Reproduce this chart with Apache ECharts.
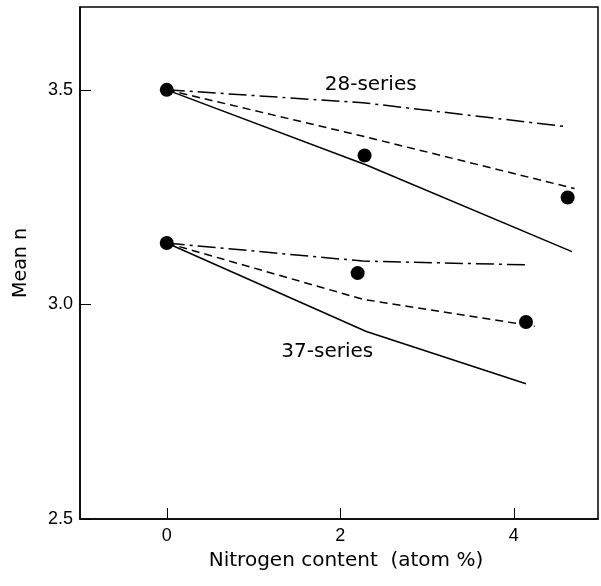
<!DOCTYPE html>
<html>
<head>
<meta charset="utf-8">
<script src="https://cdn.jsdelivr.net/npm/echarts@6/dist/echarts.min.js"></script>
<style>
  html, body { margin: 0; padding: 0; background: #fff; }
  #main { width: 601px; height: 586px; }
</style>
</head>
<body>
<div id="main"></div>
<script>
// measured points (mean n vs nitrogen content)
const dots28X = [0, 2.28, 4.62]
const dots28Y = [3.5, 3.347, 3.249]
const dots37X = [0, 2.20, 4.14]
const dots37Y = [3.143, 3.073, 2.959]

// model curves, 28-series
const solid28X = [0, 2.3, 4.67]
const solid28Y = [3.5, 3.325, 3.123]
const dashed28X = [0, 2.3, 4.70]
const dashed28Y = [3.5, 3.39, 3.27]
const dashDot28X = [0, 2.26, 4.61]
const dashDot28Y = [3.5, 3.47, 3.414]

// model curves, 37-series
const solid37X = [0, 2.3, 4.14]
const solid37Y = [3.143, 2.937, 2.815]
const dashed37X = [0, 2.26, 4.24]
const dashed37Y = [3.143, 3.012, 2.949]
const dashDot37X = [0, 2.26, 4.18]
const dashDot37Y = [3.143, 3.101, 3.092]

const xTicks = [0, 2, 4]
const yTicks = [2.5, 3.0, 3.5]
const seriesLabels = ['28-series', '37-series']
const labelX = [2.35, 1.85]
const labelY = [3.512, 2.889]

const xMin = -1
const xMax = 4.97
const yMin = 2.5
const yMax = 3.693

function pairs (xs, ys) {
  return xs.map((x, i) => [x, ys[i]])
}

function curve (xs, ys, type) {
  return {
    type: 'line',
    data: pairs(xs, ys),
    symbol: 'none',
    lineStyle: { color: '#000', width: 1.5, type: type },
    z: 2
  }
}

// helper axis that only carries the inward ticks
function tickAxis (min, max, ticks, pos) {
  return {
    type: 'value',
    position: pos,
    offset: -11,
    min: min,
    max: max,
    axisLine: { show: false, onZero: false },
    axisTick: { show: true, length: 11, customValues: ticks, lineStyle: { color: '#000', width: 1 } },
    axisLabel: { show: false },
    splitLine: { show: false }
  }
}

const myChart = echarts.init(document.getElementById('main'))

const option = {
  animation: false,
  backgroundColor: '#fff',
  textStyle: { fontFamily: 'DejaVu Sans', color: '#000' },
  grid: {
    left: 80, right: 3, top: 7, bottom: 67,
    show: true,
    borderColor: '#000',
    borderWidth: 1.5
  },
  xAxis: [{
    type: 'value',
    min: xMin,
    max: xMax,
    name: 'Nitrogen content  (atom %)',
    nameLocation: 'middle',
    nameGap: 32,
    nameTextStyle: { fontSize: 20, color: '#000', padding: [0, 0, 0, 14] },
    axisLine: { onZero: false, lineStyle: { color: '#000', width: 1.5 } },
    axisTick: { show: false },
    axisLabel: { customValues: xTicks, color: '#000', fontSize: 18, fontFamily: 'Liberation Sans', margin: 8 },
    splitLine: { show: false }
  }, tickAxis(xMin, xMax, xTicks, 'bottom')],
  yAxis: [{
    type: 'value',
    min: yMin,
    max: yMax,
    name: 'Mean n',
    nameLocation: 'middle',
    nameGap: 49,
    nameTextStyle: { fontSize: 19, color: '#000' },
    axisLine: { onZero: false, lineStyle: { color: '#000', width: 1.5 } },
    axisTick: { show: false },
    axisLabel: {
      customValues: yTicks,
      color: '#000',
      fontSize: 18,
      fontFamily: 'Liberation Sans',
      margin: 7,
      formatter: v => v.toFixed(1)
    },
    splitLine: { show: false }
  }, tickAxis(yMin, yMax, yTicks, 'left')],
  series: [
    curve(solid28X, solid28Y, 'solid'),
    curve(dashed28X, dashed28Y, [8, 5]),
    curve(dashDot28X, dashDot28Y, [18, 5, 3, 5]),
    curve(solid37X, solid37Y, 'solid'),
    curve(dashed37X, dashed37Y, [8, 5]),
    curve(dashDot37X, dashDot37Y, [18, 5, 3, 5]),
    {
      type: 'scatter',
      data: pairs(dots28X, dots28Y).concat(pairs(dots37X, dots37Y)),
      symbol: 'circle',
      symbolSize: 14,
      itemStyle: { color: '#000', opacity: 1 },
      z: 5
    },
    {
      // series name labels
      type: 'scatter',
      data: seriesLabels.map((t, i) => ({ value: [labelX[i], labelY[i]], name: t })),
      symbolSize: 0,
      itemStyle: { opacity: 1 },
      label: {
        show: true,
        position: 'inside',
        formatter: p => p.name,
        color: '#000',
        fontSize: 20,
        fontFamily: 'DejaVu Sans'
      },
      z: 6
    }
  ]
}
myChart.setOption(option)
</script>
</body>
</html>
